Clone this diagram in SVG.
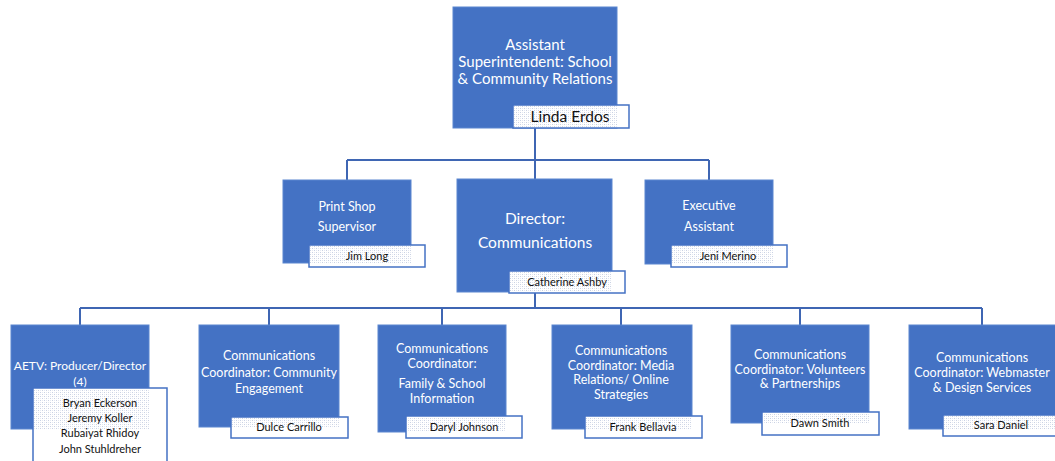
<svg xmlns="http://www.w3.org/2000/svg" width="1055" height="461" viewBox="0 0 1055 461">
<defs>
<pattern id="dots" width="4" height="4" patternUnits="userSpaceOnUse">
<rect width="4" height="4" fill="#ffffff"/>
<rect x="0" y="0" width="1" height="1" fill="#c9d1e3"/>
<rect x="2" y="2" width="1" height="1" fill="#c9d1e3"/>
<rect x="2" y="0" width="1" height="1" fill="#e4e8f1"/>
<rect x="0" y="2" width="1" height="1" fill="#e4e8f1"/>
</pattern>
</defs>
<style>
.box{fill:#4472C4;stroke:#5a86d0;stroke-width:1}
.nm{fill:#ffffff;stroke:#4472C4;stroke-width:1.5}
.pt{fill:url(#dots)}
.t{font-family:Lato,"Liberation Sans",sans-serif;fill:#ffffff;text-anchor:middle}
.n{font-family:Lato,"Liberation Sans",sans-serif;fill:#111111;text-anchor:middle;font-size:11px}
.c{fill:none;stroke:#3f66b3;stroke-width:2}
</style>
<rect width="1055" height="461" fill="#ffffff"/>
<g id="connectors">
<path class="c" d="M535 128V160M347 160H709M347 160V180M535 160V179M709 160V180"/>
<path class="c" d="M535 292V308M80 308H982M80 308V325M269 308V325M442 308V325M621 308V325M800 308V325M982 308V325"/>
</g>
<g id="n-top">
<rect class="box" x="453" y="7" width="164" height="121"/>
<text class="t" font-size="15"><tspan x="535" y="50">Assistant</tspan><tspan x="535" y="67">Superintendent: School</tspan><tspan x="535" y="84">&amp; Community Relations</tspan></text>
<rect class="nm" x="513" y="105" width="116" height="23"/>
<rect class="pt" x="514" y="106" width="103" height="21"/>
<text class="n" x="570" y="122" style="font-size:15.5px">Linda Erdos</text>
</g>
<g id="n-print">
<rect class="box" x="283" y="180" width="128" height="83"/>
<text class="t" font-size="12.5"><tspan x="347" y="211">Print Shop</tspan><tspan x="347" y="231">Supervisor</tspan></text>
<rect class="nm" x="309" y="245" width="116" height="22"/>
<rect class="pt" x="310" y="246" width="101" height="17"/>
<text class="n" x="367" y="260">Jim Long</text>
</g>
<g id="n-director">
<rect class="box" x="457" y="179" width="155" height="113"/>
<text class="t" font-size="15.5"><tspan x="535" y="224">Director:</tspan><tspan x="535" y="248">Communications</tspan></text>
<rect class="nm" x="509" y="271" width="116" height="22"/>
<rect class="pt" x="510" y="272" width="102" height="20"/>
<text class="n" x="567" y="286">Catherine Ashby</text>
</g>
<g id="n-exec">
<rect class="box" x="645" y="180" width="128" height="84"/>
<text class="t" font-size="12.5"><tspan x="709" y="210">Executive</tspan><tspan x="709" y="231">Assistant</tspan></text>
<rect class="nm" x="671" y="245" width="116" height="22"/>
<rect class="pt" x="672" y="246" width="101" height="18"/>
<text class="n" x="728" y="260">Jeni Merino</text>
</g>
<g id="n-aetv">
<rect class="box" x="11" y="325" width="138" height="104"/>
<text class="t" font-size="12"><tspan x="80" y="370">AETV: Producer/Director</tspan><tspan x="80" y="386">(4)</tspan></text>
<path class="nm" d="M33 461V388H167V461"/>
<rect class="pt" x="34" y="389" width="115" height="40"/>
<text class="n"><tspan x="100" y="407">Bryan Eckerson</tspan><tspan x="100" y="422">Jeremy Koller</tspan><tspan x="100" y="437">Rubaiyat Rhidoy</tspan><tspan x="100" y="453">John Stuhldreher</tspan></text>
</g>
<g id="n-community">
<rect class="box" x="199" y="325" width="140" height="102"/>
<text class="t" font-size="12.5"><tspan x="269" y="360">Communications</tspan><tspan x="269" y="377">Coordinator: Community</tspan><tspan x="269" y="393">Engagement</tspan></text>
<rect class="nm" x="231" y="417" width="117" height="21"/>
<rect class="pt" x="232" y="418" width="107" height="9"/>
<text class="n" x="289" y="431">Dulce Carrillo</text>
</g>
<g id="n-family">
<rect class="box" x="378" y="325" width="128" height="107"/>
<text class="t" font-size="12.5"><tspan x="442" y="353">Communications</tspan><tspan x="442" y="368">Coordinator:</tspan><tspan x="442" y="388">Family &amp; School</tspan><tspan x="442" y="403">Information</tspan></text>
<rect class="nm" x="406" y="416" width="116" height="22"/>
<rect class="pt" x="407" y="417" width="99" height="15"/>
<text class="n" x="464" y="431">Daryl Johnson</text>
</g>
<g id="n-media">
<rect class="box" x="552" y="325" width="140" height="104"/>
<text class="t" font-size="12.5"><tspan x="621" y="355">Communications</tspan><tspan x="621" y="370">Coordinator: Media</tspan><tspan x="621" y="384">Relations/ Online</tspan><tspan x="621" y="399">Strategies</tspan></text>
<rect class="nm" x="585" y="416" width="117" height="22"/>
<rect class="pt" x="586" y="417" width="106" height="12"/>
<text class="n" x="643" y="431">Frank Bellavia</text>
</g>
<g id="n-volunteers">
<rect class="box" x="731" y="325" width="138" height="98"/>
<text class="t" font-size="12.5"><tspan x="800" y="359">Communications</tspan><tspan x="800" y="374">Coordinator: Volunteers</tspan><tspan x="800" y="388">&amp; Partnerships</tspan></text>
<rect class="nm" x="762" y="412" width="117" height="23"/>
<rect class="pt" x="763" y="413" width="106" height="10"/>
<text class="n" x="820" y="427">Dawn Smith</text>
</g>
<g id="n-webmaster">
<rect class="box" x="909" y="325" width="150" height="104"/>
<text class="t" font-size="12.5"><tspan x="982" y="362">Communications</tspan><tspan x="982" y="377">Coordinator: Webmaster</tspan><tspan x="982" y="392">&amp; Design Services</tspan></text>
<rect class="nm" x="943" y="415" width="120" height="21"/>
<rect class="pt" x="944" y="416" width="111" height="13"/>
<text class="n" x="1001" y="429">Sara Daniel</text>
</g>
</svg>
